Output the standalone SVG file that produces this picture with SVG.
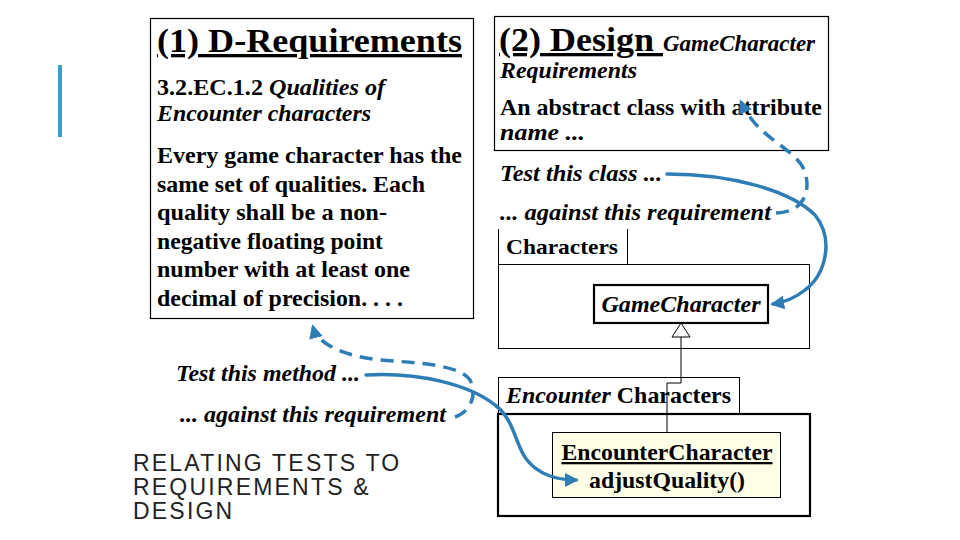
<svg xmlns="http://www.w3.org/2000/svg" width="960" height="540" viewBox="0 0 960 540">
<defs>
<style>
.box{fill:#fff;stroke:#000;stroke-width:1.2}
.t{font-family:"Liberation Serif","Times New Roman",serif;font-weight:bold;fill:#000}
.i{font-style:italic}
.title{font-size:33px;text-decoration:underline}
.b24{font-size:24px}
.b23{font-size:23px}
.b22{font-size:22px}
.side{font-family:"Liberation Sans",Arial,sans-serif;font-size:23px;letter-spacing:2.2px;fill:#222}
.conn{fill:none;stroke:#2e7db5;stroke-width:3.5;stroke-linecap:round}
.dash{stroke-dasharray:13 8;stroke-linecap:butt}
</style>
<marker id="ah" viewBox="0 0 10 10" refX="8" refY="5" markerWidth="4" markerHeight="4" orient="auto" markerUnits="strokeWidth">
<path d="M0,0 L10,5 L0,10 z" fill="#2e7db5"/>
</marker>
</defs>
<rect x="0" y="0" width="960" height="540" fill="#fff"/>
<rect x="58" y="65" width="4" height="72" fill="#3a9fcb"/>

<g id="requirements">
<rect class="box" x="150.5" y="18.5" width="323" height="300"/>
<text class="t title" x="157" y="52" textLength="305" lengthAdjust="spacingAndGlyphs">(1) D-Requirements</text>
<text class="t b23" x="157" y="95" textLength="228" lengthAdjust="spacingAndGlyphs">3.2.EC.1.2 <tspan class="i">Qualities of</tspan></text>
<text class="t b23 i" x="157" y="121" textLength="214" lengthAdjust="spacingAndGlyphs">Encounter characters</text>
<text class="t b24" x="157" y="163" textLength="305" lengthAdjust="spacingAndGlyphs">Every game character has the</text>
<text class="t b24" x="157" y="192" textLength="268" lengthAdjust="spacingAndGlyphs">same set of qualities. Each</text>
<text class="t b24" x="157" y="220" textLength="230" lengthAdjust="spacingAndGlyphs">quality shall be a non-</text>
<text class="t b24" x="157" y="249" textLength="226" lengthAdjust="spacingAndGlyphs">negative floating point</text>
<text class="t b24" x="157" y="277" textLength="253" lengthAdjust="spacingAndGlyphs">number with at least one</text>
<text class="t b24" x="157" y="306" textLength="246" lengthAdjust="spacingAndGlyphs">decimal of precision. . . .</text>
</g>

<g id="design">
<rect class="box" x="494.5" y="16.5" width="334" height="134"/>
<text class="t" x="499" y="51"><tspan class="title" textLength="164" lengthAdjust="spacingAndGlyphs">(2) Design </tspan><tspan class="i" font-size="23px">GameCharacter</tspan></text>
<text class="t b23 i" x="500" y="78" textLength="137" lengthAdjust="spacingAndGlyphs">Requirements</text>
<text class="t b24" x="500" y="115" textLength="322" lengthAdjust="spacingAndGlyphs">An abstract class with attribute</text>
<text class="t b24 i" x="500" y="140" textLength="85" lengthAdjust="spacingAndGlyphs">name ...</text>
</g>

<g id="test-class-labels">
<text class="t b24 i" x="500" y="181" textLength="162" lengthAdjust="spacingAndGlyphs">Test this class ...</text>
<text class="t b24 i" x="500" y="220" textLength="271" lengthAdjust="spacingAndGlyphs">... against this requirement</text>
</g>

<g id="characters-package">
<line x1="498.5" y1="229" x2="498.5" y2="264" stroke="#000" stroke-width="1"/>
<line x1="627.5" y1="229" x2="627.5" y2="264" stroke="#000" stroke-width="1"/>
<rect x="498.5" y="264.5" width="311" height="84" fill="none" stroke="#000" stroke-width="1"/>
<text class="t b22" x="506" y="254" textLength="112" lengthAdjust="spacingAndGlyphs">Characters</text>
</g>

<g id="gamecharacter-class">
<rect x="594" y="285" width="174" height="38" fill="#fff" stroke="#000" stroke-width="2.2"/>
<text class="t b24 i" x="681" y="312" text-anchor="middle" textLength="159" lengthAdjust="spacingAndGlyphs">GameCharacter</text>
</g>

<g id="encounter-package">
<rect x="498.5" y="377.5" width="241" height="36" fill="#fff" stroke="#000" stroke-width="1"/>
<rect x="498" y="414" width="312" height="102" fill="#fff" stroke="#000" stroke-width="2.2"/>
<text class="t b23" x="506" y="403" textLength="225" lengthAdjust="spacingAndGlyphs"><tspan class="i">Encounter</tspan> Characters</text>
</g>

<g id="encountercharacter-class">
<rect x="552.5" y="432.5" width="228" height="65" fill="#ffffe8" stroke="#000" stroke-width="1"/>
<text class="t b23" x="667" y="460" text-anchor="middle" text-decoration="underline" textLength="211" lengthAdjust="spacingAndGlyphs">EncounterCharacter</text>
<text class="t b23" x="667" y="488" text-anchor="middle" textLength="156" lengthAdjust="spacingAndGlyphs">adjustQuality()</text>
</g>

<g id="test-method-labels">
<text class="t b24 i" x="176" y="381" textLength="184" lengthAdjust="spacingAndGlyphs">Test this method ...</text>
<text class="t b24 i" x="180" y="422" textLength="266" lengthAdjust="spacingAndGlyphs">... against this requirement</text>
</g>

<g id="caption">
<text class="side" x="133" y="471">RELATING TESTS TO</text>
<text class="side" x="133" y="495">REQUIREMENTS &amp;</text>
<text class="side" x="133" y="519">DESIGN</text>
</g>

<g id="connectors">
<polyline points="681,337 681,383 667,383 667,432" fill="none" stroke="#000" stroke-width="1"/>
<polygon points="681,323 672,337 690,337" fill="#fff" stroke="#000" stroke-width="1"/>
<path class="conn dash" d="M455 417 C470 412 478 395 470 380 C460 365 420 363 380 360 C345 356 318 345 313 327" marker-end="url(#ah)"/>
<path class="conn" d="M366 375 C420 372 470 385 495 405 C515 420 515 445 527 460 C540 476 558 480 576 480" marker-end="url(#ah)"/>
<path class="conn dash" d="M776 213 C800 213 812 195 805 172 C797 148 758 140 741 102" marker-end="url(#ah)"/>
<path class="conn" d="M667 174 C730 174 790 190 815 215 C835 240 825 275 805 290 C795 298 786 302 773 304" marker-end="url(#ah)"/>
</g>
</svg>
